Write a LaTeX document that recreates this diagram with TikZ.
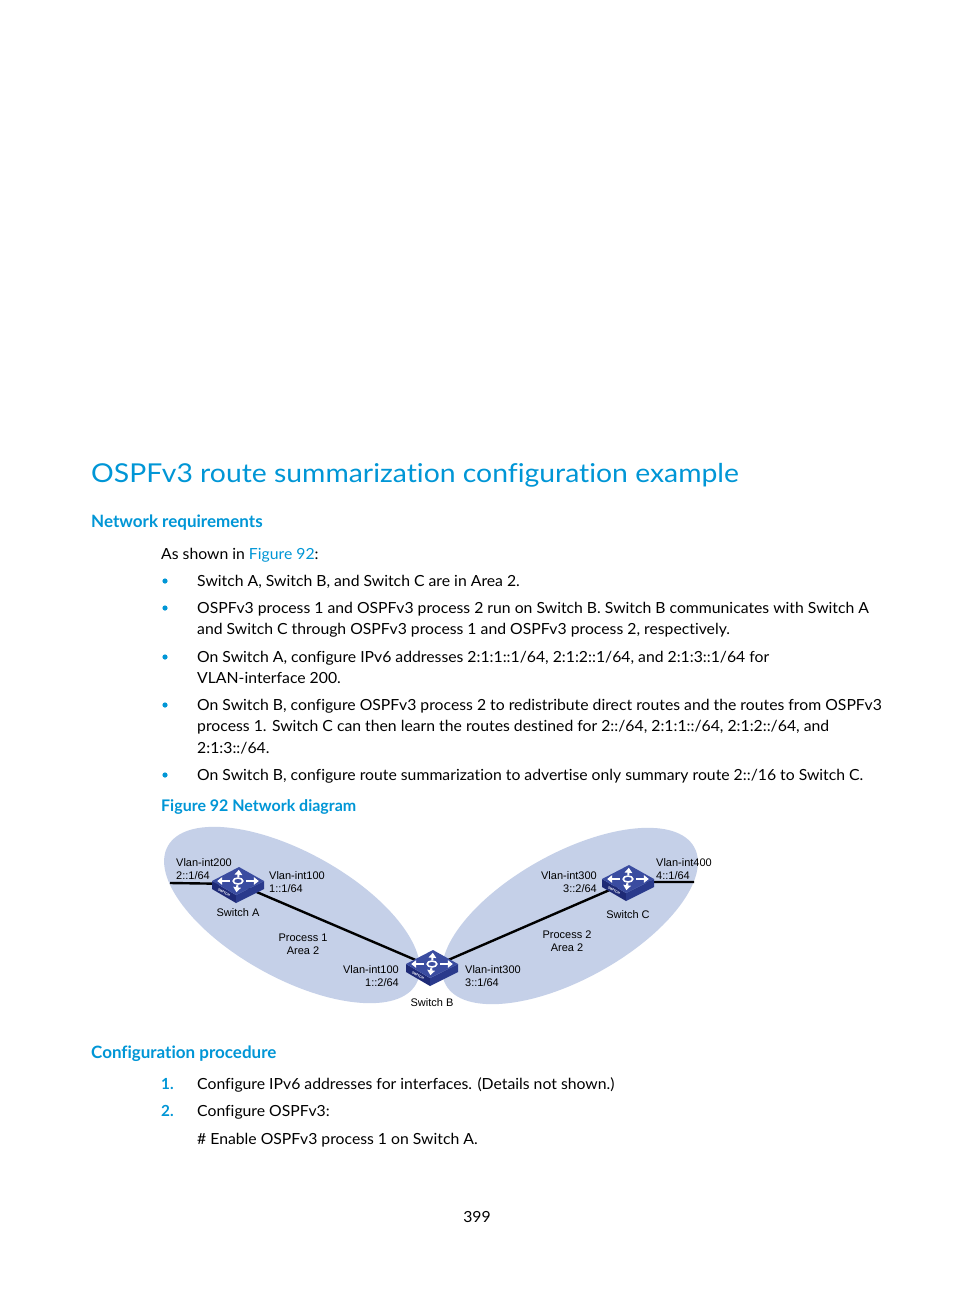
\documentclass[tikz,border=0pt]{standalone}
\usepackage{fontspec}
\setmainfont{Lato}[FakeStretch=1.03, Ligatures=NoCommon]
\newfontfamily\titlefont{Lato}[FakeStretch=1.09, Ligatures=NoCommon]
\newfontfamily\headfont{Lato}[Ligatures=NoCommon]
\newfontfamily\arialfont{Liberation Sans}
\usetikzlibrary{positioning,arrows.meta}

\definecolor{hpblue}{RGB}{0,150,214}
\definecolor{areablue}{RGB}{197,208,232}
\definecolor{swtop}{RGB}{58,76,160}
\definecolor{swleft}{RGB}{30,42,118}
\definecolor{swright}{RGB}{42,58,140}

\tikzset{
	body/.style={anchor=base west, inner sep=0pt, font=\fontsize{15.3}{21}\selectfont},
	title/.style={anchor=base west, inner sep=0pt, text=hpblue, font=\titlefont\fontsize{26}{30}\selectfont},
	head/.style={anchor=base west, inner sep=0pt, text=hpblue, font=\headfont\fontsize{17}{20}\selectfont\bfseries},
	lbl/.style={inner sep=0pt, font=\arialfont\fontsize{11}{13}\selectfont},
	link/.style={line width=2.4pt},
	switch/.pic={
		\fill[swleft] (-26,-3) -- (-2,11) -- (-2,19) -- (-26,5) -- cycle;
		\fill[swright] (-2,11) -- (26,-3) -- (26,5) -- (-2,19) -- cycle;
		\fill[swtop] (-26,-3) -- (1,-17) -- (26,-3) -- (-2,11) -- cycle;
		\foreach \vx/\vy in {1/-14, 26/0, -2/14, -26/0}
			\draw[white, line width=2.1pt, -{Triangle[length=5pt,width=7.5pt]}] (0.3*\vx, -3+0.3*\vy) -- (0.8*\vx, -3+0.8*\vy);
		\draw[white, line width=1.6pt] (0,-3) ellipse [x radius=4.8pt, y radius=3pt];
		\node[rotate=-30, inner sep=0pt, text=white, font=\arialfont\fontsize{3.4}{3}\selectfont\bfseries] (-tag) at (-14,8.5) {SWITCH};
		\coordinate (-c) at (0,0);
	}
}

\begin{document}
\begin{tikzpicture}[x=1pt, y=-1pt]
	\useasboundingbox (0,0) rectangle (954,1296);
	\fill[white] (0,0) rectangle (954,1296);

	% page text
	\node[title] (ttl) at (91,482) {OSPFv3 route summarization configuration example};
	\node[head] (hnet) at (91,527) {Network requirements};
	\node[body] (intro) at (161,559) {As shown in \textcolor{hpblue}{Figure 92}:};
	\foreach \y in {586,613,662,710,780} \fill[hpblue] (165,\y-5) circle (2.6pt);
	\node[body] (b1) at (197,586) {Switch A, Switch B, and Switch C are in Area 2.};
	\node[body] (b2a) at (197,613) {OSPFv3 process 1 and OSPFv3 process 2 run on Switch B. Switch B communicates with Switch A};
	\node[body] (b2b) at (197,634) {and Switch C through OSPFv3 process 1 and OSPFv3 process 2, respectively.};
	\node[body] (b3a) at (197,662) {On Switch A, configure IPv6 addresses 2:1:1::1/64, 2:1:2::1/64, and 2:1:3::1/64 for};
	\node[body] (b3b) at (197,683) {VLAN-interface 200.};
	\node[body] (b4a) at (197,710) {On Switch B, configure OSPFv3 process 2 to redistribute direct routes and the routes from OSPFv3};
	\node[body] (b4b) at (197,731) {process 1. Switch C can then learn the routes destined for 2::/64, 2:1:1::/64, 2:1:2::/64, and};
	\node[body] (b4c) at (197,753) {2:1:3::/64.};
	\node[body] (b5) at (197,780) {On Switch B, configure route summarization to advertise only summary route 2::/16 to Switch C.};
	\node[head, font=\headfont\fontsize{16}{20}\selectfont\bfseries] (fig) at (161,811) {Figure 92 Network diagram};

	% diagram
	\fill[areablue, rotate around={-29:(292,915)}] (292,915) ellipse [x radius=142pt, y radius=63pt];
	\fill[areablue, rotate around={29:(570,916)}] (570,916) ellipse [x radius=142pt, y radius=63pt];
	\coordinate (endA) at (170,883);
	\coordinate (endC) at (694,882);
	\coordinate (posA) at (238,884);
	\coordinate (posB) at (432,967);
	\coordinate (posC) at (628,882);
	\draw[link] (endA) -- (posA) -- (posB) -- (posC) -- (endC);
	\pic (swA) at (posA) {switch};
	\pic (swB) at (posB) {switch};
	\pic (swC) at (posC) {switch};
	\node[lbl, below=24pt of swA-c] (nameA) {Switch A};
	\node[lbl, below=31pt of swB-c] (nameB) {Switch B};
	\node[lbl, below=28pt of swC-c] (nameC) {Switch C};
	\node[lbl, anchor=north west, align=left] (ifA200) at (176,858) {Vlan-int200\\2::1/64};
	\node[lbl, anchor=north west, align=left] (ifA100) at (269,871) {Vlan-int100\\1::1/64};
	\node[lbl, anchor=north east, align=right] (ifB100) at (399,965) {Vlan-int100\\1::2/64};
	\node[lbl, anchor=north west, align=left] (ifB300) at (465,965) {Vlan-int300\\3::1/64};
	\node[lbl, anchor=north east, align=right] (ifC300) at (597,871) {Vlan-int300\\3::2/64};
	\node[lbl, anchor=north west, align=left] (ifC400) at (656,858) {Vlan-int400\\4::1/64};
	\node[lbl, anchor=north, align=center] (proc1) at (303,934) {Process 1\\Area 2};
	\node[lbl, anchor=north, align=center] (proc2) at (567,931) {Process 2\\Area 2};

	% procedure
	\node[head] (hconf) at (91,1058) {Configuration procedure};
	\node[head, font=\headfont\fontsize{15.3}{21}\selectfont\bfseries] (n1) at (161,1089) {1.};
	\node[body] (s1) at (197,1089) {Configure IPv6 addresses for interfaces. (Details not shown.)};
	\node[head, font=\headfont\fontsize{15.3}{21}\selectfont\bfseries] (n2) at (161,1116) {2.};
	\node[body] (s2) at (197,1116) {Configure OSPFv3:};
	\node[body] (s3) at (197,1144) {\# Enable OSPFv3 process 1 on Switch A.};
	\node[body, anchor=base] (pg) at (477,1222) {399};
\end{tikzpicture}
\end{document}
